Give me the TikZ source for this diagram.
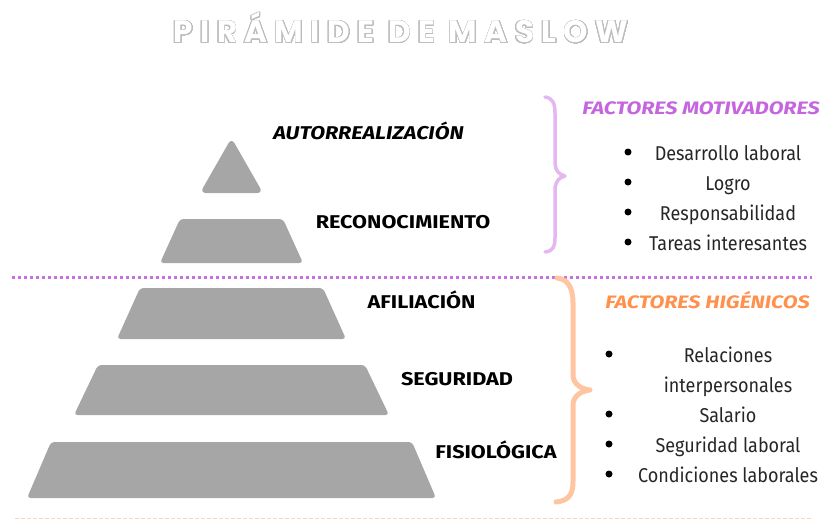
\documentclass[tikz,border=0pt]{standalone}
\usepackage{fontspec}
\usepackage[copies]{contour}
\contourlength{0.75pt}
\contournumber{48}
\setmainfont{Fira Sans}
\newfontfamily\headfont[FakeStretch=1.17]{Fira Sans}
\newfontfamily\factfont[FakeStretch=1.2]{Fira Sans}
\newfontfamily\listfont[FakeStretch=0.9]{Fira Sans}
\newfontfamily\titlefont[LetterSpace=24]{Poppins}
\definecolor{pyr}{HTML}{A6A6A6}
\definecolor{motiv}{HTML}{C566DE}
\definecolor{motivlight}{HTML}{E4B6F2}
\definecolor{dotpurple}{HTML}{C86FE6}
\definecolor{hig}{HTML}{FF914D}
\definecolor{higlight}{HTML}{FFC4A0}
\definecolor{dotorange}{HTML}{FFD2B8}
\definecolor{titlegray}{HTML}{BDBDBD}
\tikzset{
  lvl/.style={anchor=base, font=\headfont\bfseries\fontsize{18.5}{20}\selectfont, text=black, inner sep=0pt},
  facthead/.style={anchor=base, font=\factfont\bfseries\itshape\fontsize{18}{20}\selectfont, inner sep=0pt},
  item/.style={anchor=base, font=\listfont\fontsize{20}{22}\selectfont, text=black!85, inner sep=0pt},
  pyrshape/.style={fill=pyr, draw=none, rounded corners=3.5pt},
  bull/.style={circle, fill=black, inner sep=0pt, minimum size=7pt},
  brace/.style={line cap=round, line join=round}
}
\begin{document}
\begin{tikzpicture}[x=1pt,y=-1pt]
\useasboundingbox (0,0) rectangle (822,519);
% title
\node[anchor=base, inner sep=0pt] (title) at (401,43) {\titlefont\bfseries\fontsize{31}{33}\selectfont\contour{titlegray}{\textcolor{white}{PIRÁMIDE DE MASLOW}}};
% pyramid
\fill[pyrshape, rounded corners=6pt] (200,193) -- (231.5,138) -- (263,193) -- cycle;
\fill[pyrshape] (160,263) -- (180,219) -- (283,219) -- (303,263) -- cycle;
\fill[pyrshape] (117,339) -- (140,288) -- (323,288) -- (346,339) -- cycle;
\fill[pyrshape] (74,415) -- (98,365) -- (365,365) -- (389,415) -- cycle;
\fill[pyrshape] (27,498) -- (51,442) -- (412,442) -- (436,498) -- cycle;
% level labels
\node[lvl, font=\headfont\bfseries\itshape\fontsize{18.5}{20}\selectfont] (auto) at (368.5,139) {AUTORREALIZACIÓN};
\node[lvl] (reco) at (403,228) {RECONOCIMIENTO};
\node[lvl] (afil) at (421.5,308.5) {AFILIACIÓN};
\node[lvl] (segu) at (457,385.5) {SEGURIDAD};
\node[lvl] (fisi) at (496,458) {FISIOLÓGICA};
% dotted separators
\coordinate (sepL) at (12,277);
\coordinate (sepR) at (812,277);
\draw[dotpurple, line width=3pt, dash pattern=on 3pt off 3pt] (sepL) -- (sepR);
\coordinate (botL) at (15,519.5);
\coordinate (botR) at (812,519.5);
\draw[dotorange, line width=3pt, dash pattern=on 4pt off 2pt] (botL) -- (botR);
% braces
\draw[brace, motivlight, line width=3.5pt] (545,97) .. controls (553,98) and (555,104) .. (555,113) -- (555,163) .. controls (555,170) and (559,175) .. (565,176) .. controls (559,177) and (555,182) .. (555,190) -- (555,238) .. controls (555,247) and (553,251) .. (545,252);
\draw[brace, higlight, line width=5pt] (557,278) .. controls (568,279) and (573,288) .. (573,303) -- (573,375) .. controls (573,383) and (580,389) .. (590,390) .. controls (580,391) and (573,397) .. (573,405) -- (573,482) .. controls (573,496) and (567,501) .. (556,502);
% factor headings
\node[facthead, text=motiv] (fm) at (701,114) {FACTORES MOTIVADORES};
\node[facthead, text=hig] (fh) at (707.5,308) {FACTORES HIGÉNICOS};
% motivadores list
\node[bull] (b1) at (628,152) {};
\node[bull] (b2) at (628,182) {};
\node[bull] (b3) at (628,212) {};
\node[bull] (b4) at (628,242) {};
\node[item] (m1) at (728,160) {Desarrollo laboral};
\node[item] (m2) at (728,190) {Logro};
\node[item] (m3) at (728,220) {Responsabilidad};
\node[item] (m4) at (728,250) {Tareas interesantes};
% higienicos list
\node[bull] (c1) at (609,354) {};
\node[bull] (c2) at (609,414) {};
\node[bull] (c3) at (609,444) {};
\node[bull] (c4) at (609,474) {};
\node[item] (h1) at (728,362) {Relaciones};
\node[item] (h1b) at (728,392) {interpersonales};
\node[item] (h2) at (728,422) {Salario};
\node[item] (h3) at (728,452) {Seguridad laboral};
\node[item] (h4) at (728,482) {Condiciones laborales};
\end{tikzpicture}
\end{document}
